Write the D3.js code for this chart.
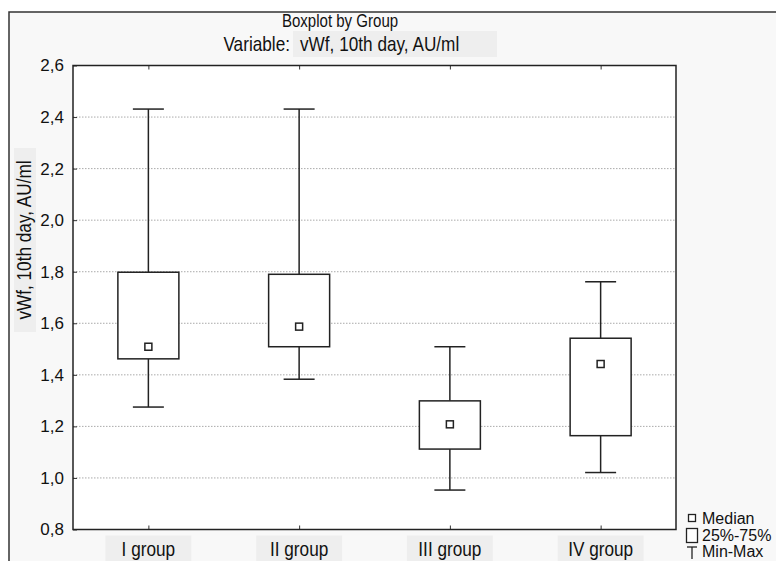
<!DOCTYPE html>
<html>
<head>
<meta charset="utf-8">
<script src="https://cdn.jsdelivr.net/npm/d3@7"></script>
<style>
  body { margin: 0; background: #fff; }
  text { fill: #111; }
</style>
</head>
<body>
<div id="chart"></div>
<script>
'use strict';

// data
const groups = ['I group', 'II group', 'III group', 'IV group'];
const mins    = [1.275, 1.383, 0.953, 1.021];
const q1s     = [1.462, 1.509, 1.112, 1.164];
const medians = [1.509, 1.587, 1.208, 1.442];
const q3s     = [1.798, 1.790, 1.299, 1.542];
const maxs    = [2.431, 2.431, 1.509, 1.761];
const yTicks  = [0.8, 1.0, 1.2, 1.4, 1.6, 1.8, 2.0, 2.2, 2.4, 2.6];

const width = 776, height = 561;
const margin = {top: 65.5, right: 100, bottom: 31.5, left: 73};
const sans = '"Liberation Sans", Arial, sans-serif';
// no narrow face installed, so squeeze text horizontally
const squeeze = 0.86;

const svg = d3.select('#chart').append('svg')
  .attr('width', width)
  .attr('height', height);

// outer frame with light grey background
svg.append('rect')
  .attr('x', 9).attr('y', 12)
  .attr('width', width + 10).attr('height', height + 10)
  .attr('fill', '#f8f8f8')
  .attr('stroke', '#333').attr('stroke-width', 1.5);

const x = d3.scalePoint()
  .domain(groups)
  .range([margin.left, width - margin.right])
  .padding(0.5);

const y = d3.scaleLinear()
  .domain([0.8, 2.6])
  .range([height - margin.bottom, margin.top]);

const boxW = 61, capW = 31;
const x0 = margin.left, x1 = width - margin.right;
const yTop = margin.top, yBot = height - margin.bottom;

// narrow text helper
function narrowText(g, px, py, size, str, anchor, rot) {
  return g.append('text')
    .attr('transform', `translate(${px},${py})` + (rot ? ` rotate(${rot})` : '') + ` scale(${squeeze},1)`)
    .attr('text-anchor', anchor || 'start')
    .attr('font-family', sans)
    .attr('font-size', size)
    .text(str);
}

// faint label backgrounds
svg.append('rect').attr('x', 293).attr('y', 31).attr('width', 204).attr('height', 26).attr('fill', '#eeeeee');
svg.append('rect').attr('x', 14).attr('y', 148).attr('width', 22).attr('height', 184).attr('fill', '#eeeeee');
svg.selectAll('rect.lblbg')
  .data(groups)
  .enter().append('rect')
  .attr('class', 'lblbg')
  .attr('x', d => x(d) - 43)
  .attr('y', yBot + 6)
  .attr('width', 86)
  .attr('height', 30)
  .attr('fill', '#eeeeee');

// plot area
svg.append('rect')
  .attr('x', x0).attr('y', yTop)
  .attr('width', x1 - x0).attr('height', yBot - yTop)
  .attr('fill', '#fff');

// dotted grid
svg.append('g')
  .selectAll('line')
  .data(yTicks.slice(1, -1))
  .enter().append('line')
  .attr('x1', x0).attr('x2', x1)
  .attr('y1', d => y(d)).attr('y2', d => y(d))
  .attr('stroke', '#aaa')
  .attr('stroke-width', 1)
  .attr('stroke-dasharray', '1.5,1.5');

// y axis
const yAxis = svg.append('g')
  .attr('transform', `translate(${x0},0)`)
  .call(d3.axisLeft(y)
    .tickValues(yTicks)
    .tickSize(-4)
    .tickPadding(9)
    .tickFormat(d => d3.format('.1f')(d).replace('.', ',')));
yAxis.select('.domain').remove();
yAxis.selectAll('line').attr('stroke', '#333');
yAxis.selectAll('text')
  .attr('font-family', sans)
  .attr('font-size', 17)
  .attr('fill', '#111');

// x axis ticks top and bottom, labels drawn separately
const xAxis = svg.append('g')
  .attr('transform', `translate(0,${yBot})`)
  .call(d3.axisBottom(x).tickSize(-4).tickFormat(''));
xAxis.select('.domain').remove();
xAxis.selectAll('line').attr('stroke', '#333');

const xTop = svg.append('g')
  .attr('transform', `translate(0,${yTop})`)
  .call(d3.axisTop(x).tickSize(-4).tickFormat(''));
xTop.select('.domain').remove();
xTop.selectAll('line').attr('stroke', '#333');

const xl = svg.append('g');
groups.forEach(g => narrowText(xl, x(g), yBot + 26, 20, g, 'middle'));

// plot border
svg.append('rect')
  .attr('x', x0).attr('y', yTop)
  .attr('width', x1 - x0).attr('height', yBot - yTop)
  .attr('fill', 'none')
  .attr('stroke', '#222').attr('stroke-width', 1.5);

// boxes
const idx = d3.range(groups.length);
const boxes = svg.append('g')
  .selectAll('g')
  .data(idx)
  .enter().append('g')
  .attr('stroke', '#222')
  .attr('stroke-width', 1.5)
  .attr('fill', 'none');

// whiskers
boxes.append('line')
  .attr('x1', i => x(groups[i])).attr('x2', i => x(groups[i]))
  .attr('y1', i => y(maxs[i])).attr('y2', i => y(q3s[i]));
boxes.append('line')
  .attr('x1', i => x(groups[i])).attr('x2', i => x(groups[i]))
  .attr('y1', i => y(q1s[i])).attr('y2', i => y(mins[i]));
boxes.append('line')
  .attr('x1', i => x(groups[i]) - capW / 2).attr('x2', i => x(groups[i]) + capW / 2)
  .attr('y1', i => y(maxs[i])).attr('y2', i => y(maxs[i]));
boxes.append('line')
  .attr('x1', i => x(groups[i]) - capW / 2).attr('x2', i => x(groups[i]) + capW / 2)
  .attr('y1', i => y(mins[i])).attr('y2', i => y(mins[i]));

boxes.append('rect')
  .attr('x', i => x(groups[i]) - boxW / 2)
  .attr('y', i => y(q3s[i]))
  .attr('width', boxW)
  .attr('height', i => y(q1s[i]) - y(q3s[i]))
  .attr('fill', '#fff');

boxes.append('rect')
  .attr('x', i => x(groups[i]) - 3.5)
  .attr('y', i => y(medians[i]) - 3.5)
  .attr('width', 7).attr('height', 7)
  .attr('fill', '#fff');

// titles
const tg = svg.append('g');
narrowText(tg, 340, 27, 17.5, 'Boxplot by Group', 'middle');
narrowText(tg, 290, 51, 20, 'Variable:', 'end');
narrowText(tg, 300, 51, 20, 'vWf, 10th day, AU/ml');

// y label
narrowText(svg, 31, 240, 20, 'vWf, 10th day, AU/ml', 'middle', -90);

// legend
const lg = svg.append('g').attr('font-family', sans).attr('font-size', 16);
lg.append('rect').attr('x', 688.5).attr('y', 514.5).attr('width', 7).attr('height', 7)
  .attr('fill', '#fff').attr('stroke', '#222').attr('stroke-width', 1.3);
lg.append('text').attr('x', 702).attr('y', 524).text('Median');
lg.append('rect').attr('x', 686.5).attr('y', 528.5).attr('width', 11).attr('height', 14)
  .attr('fill', '#fff').attr('stroke', '#222').attr('stroke-width', 1.3);
lg.append('text').attr('x', 702).attr('y', 541).text('25%-75%');
lg.append('line').attr('x1', 687).attr('x2', 697).attr('y1', 547).attr('y2', 547)
  .attr('stroke', '#222').attr('stroke-width', 1.3);
lg.append('line').attr('x1', 692).attr('x2', 692).attr('y1', 547).attr('y2', 559)
  .attr('stroke', '#222').attr('stroke-width', 1.3);
lg.append('text').attr('x', 702).attr('y', 557).text('Min-Max');
</script>
</body>
</html>
